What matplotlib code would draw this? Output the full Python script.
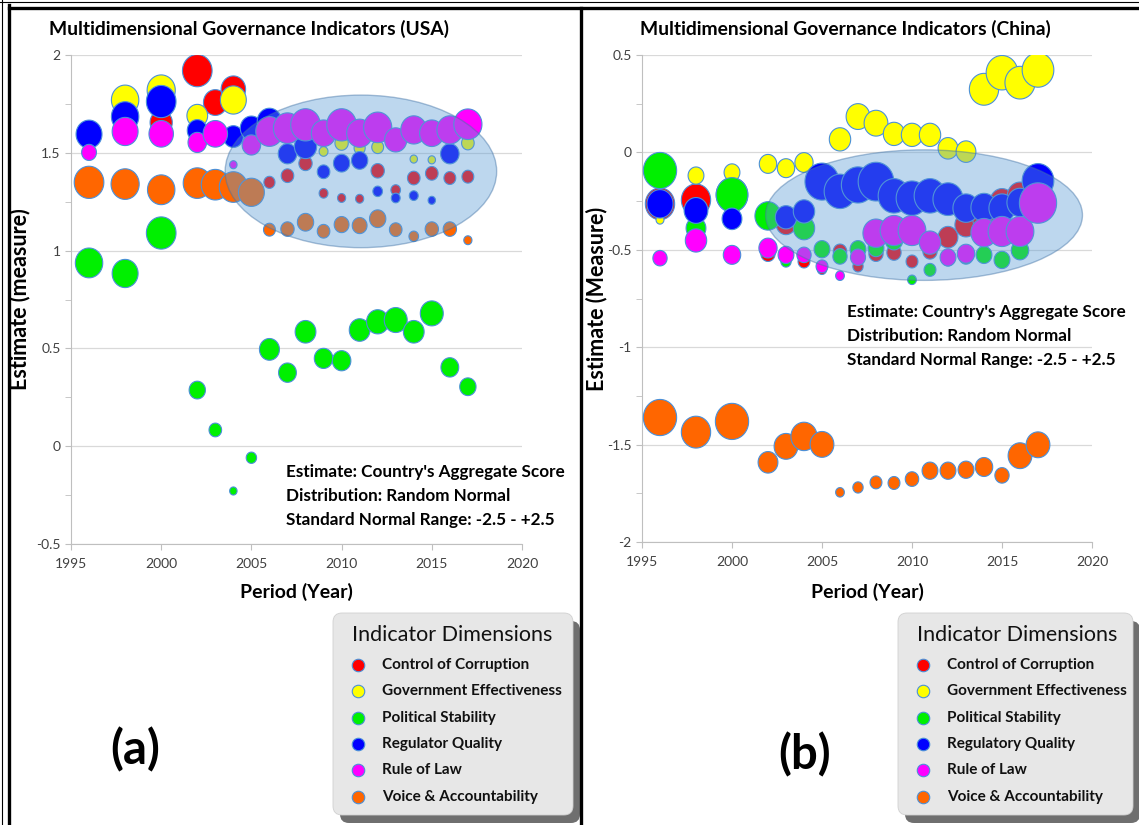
import numpy as np
import matplotlib
matplotlib.use('Agg')
import matplotlib.pyplot as plt
from matplotlib.patches import Ellipse, FancyBboxPatch
from matplotlib.ticker import MultipleLocator, FuncFormatter

# --- Dados ---
years = [1996, 1998, 2000, 2002, 2003, 2004, 2005, 2006, 2007, 2008,
         2009, 2010, 2011, 2012, 2013, 2014, 2015, 2016, 2017]

nan = np.nan

# USA
usa_cc = [nan, nan, 1.655, 1.92, 1.757, 1.825, nan, 1.349, 1.383, 1.446,
          1.293, 1.269, 1.265, 1.408, 1.31, 1.371, 1.395, 1.371, 1.378]
usa_cc_size = [20, 20, 30, 40, 32, 33, 20, 15, 17, 18, 12, 11, 11, 18, 13, 17, 17, 16, 16]
usa_ge = [nan, 1.77, 1.82, 1.69, nan, 1.77, nan, nan, nan, nan,
          1.507, 1.55, 1.524, 1.529, nan, 1.468, 1.464, nan, 1.55]
usa_ge_size = [15, 37, 38, 28, 15, 35, 15, 15, 15, 15, 12, 18, 15, 16, 15, 10, 10, 15, 17]
usa_ps = [0.937, 0.883, 1.09, 0.287, 0.083, -0.229, -0.059, 0.495, 0.376, 0.585,
          0.449, 0.437, 0.594, 0.636, 0.645, 0.585, 0.679, 0.403, 0.304]
usa_ps_size = [37, 35, 40, 22, 17, 10, 14, 27, 24, 28, 25, 25, 28, 30, 31, 28, 31, 24, 22]
usa_rq = [1.595, 1.685, 1.762, 1.614, nan, 1.583, 1.626, 1.66, 1.495, 1.532,
          1.403, 1.447, 1.461, 1.303, 1.269, 1.281, 1.257, 1.495, nan]
usa_rq_size = [35, 37, 40, 27, 25, 27, 30, 33, 25, 30, 17, 22, 22, 13, 12, 12, 10, 25, 15]
usa_rl = [1.502, 1.609, 1.597, 1.553, 1.597, 1.439, 1.54, 1.609, 1.626, 1.643,
          1.60, 1.643, 1.60, 1.63, 1.566, 1.617, 1.60, 1.617, 1.646]
usa_rl_size = [20, 35, 33, 25, 33, 10, 25, 37, 38, 40, 33, 40, 35, 38, 30, 35, 33, 35, 38]
usa_va = [1.349, 1.34, 1.311, 1.345, 1.337, 1.325, 1.298, 1.107, 1.11, 1.145,
          1.099, 1.133, 1.128, 1.163, 1.107, 1.073, 1.11, 1.11, 1.053]
usa_va_size = [40, 38, 37, 38, 38, 38, 35, 16, 18, 22, 17, 20, 20, 22, 17, 13, 18, 18, 11]

# China
chn_cc = [-0.264, -0.244, -0.218, -0.52, -0.367, -0.56, -0.60, -0.508, -0.585, -0.52,
          -0.514, -0.56, -0.508, -0.435, -0.372, -0.346, -0.252, -0.223, nan]
chn_cc_size = [37, 37, 40, 18, 25, 15, 12, 17, 13, 18, 18, 15, 18, 25, 28, 28, 30, 32, 25]
chn_ge = [-0.346, -0.119, -0.103, -0.059, -0.081, -0.052, nan, 0.067, 0.184, 0.15,
          0.095, 0.09, 0.09, 0.021, 0.004, 0.324, 0.409, 0.358, 0.423]
chn_ge_size = [10, 20, 20, 22, 22, 23, 20, 27, 30, 30, 27, 27, 27, 25, 25, 37, 40, 38, 40]
chn_ps = [-0.093, -0.389, -0.218, -0.326, -0.56, -0.389, -0.497, -0.534, -0.497, -0.491,
          -0.452, -0.654, -0.603, -0.55, -0.534, -0.526, -0.552, -0.503, nan]
chn_ps_size = [42, 25, 40, 33, 13, 27, 20, 18, 20, 20, 22, 11, 15, 15, 18, 20, 20, 22, 15]
chn_rq = [-0.264, -0.298, -0.341, nan, -0.333, -0.303, -0.15, -0.20, -0.167, -0.15,
          -0.223, -0.235, -0.223, -0.24, -0.286, -0.283, -0.286, -0.257, -0.146]
chn_rq_size = [33, 30, 25, 20, 27, 27, 43, 40, 42, 45, 40, 40, 40, 38, 33, 33, 33, 33, 40]
chn_rl = [-0.543, -0.452, -0.526, -0.491, -0.526, -0.526, -0.585, -0.633, -0.538, -0.415,
          -0.401, -0.401, -0.463, -0.539, -0.52, -0.412, -0.406, -0.406, -0.26]
chn_rl_size = [18, 27, 22, 23, 20, 18, 15, 11, 19, 33, 35, 35, 27, 20, 22, 33, 35, 35, 47]
chn_va = [-1.361, -1.436, -1.381, -1.591, -1.509, -1.458, -1.499, -1.745, -1.72, -1.694,
          -1.697, -1.677, -1.634, -1.634, -1.629, -1.615, -1.658, -1.557, -1.501]
chn_va_size = [42, 37, 42, 25, 30, 33, 30, 11, 13, 15, 15, 17, 20, 20, 20, 22, 18, 30, 30]

labels_usa = ['Control of Corruption', 'Government Effectiveness', 'Political Stability',
              'Regulator Quality', 'Rule of Law', 'Voice & Accountability']
labels_chn = ['Control of Corruption', 'Government Effectiveness', 'Political Stability',
              'Regulatory Quality', 'Rule of Law', 'Voice & Accountability']
colors = ['#ff0000', '#ffff00', '#00f000', '#0000ff', '#ff00ff', '#ff6600']
note = "Estimate: Country's Aggregate Score\nDistribution: Random Normal\nStandard Normal Range: -2.5 - +2.5"
# --------------------

FONT = 'Lato'
W, H = 1139, 825
fig = plt.figure(figsize=(W / 100, H / 100), dpi=100)
fig.patch.set_facecolor('white')


def px_rect(left, top, right, bottom):
    return [left / W, 1 - bottom / H, (right - left) / W, (bottom - top) / H]


# marcador levemente elíptico, como na figura original
t = np.linspace(0, 2 * np.pi, 60)
bubble = np.column_stack([0.92 * np.cos(t), np.sin(t)])


def draw_panel(rect, series, sizes, ylim, ylabel, ell, k, ylab_x, xlab_y):
    ax = fig.add_axes(rect)
    for vals, sz, col in zip(series, sizes, colors):
        s = (np.array(sz) * k) ** 2
        ax.scatter(years, vals, s=s, c=col, marker=bubble, edgecolors='#4a90d9',
                   linewidths=0.8, zorder=3)
    ax.add_patch(Ellipse(ell[0], ell[1], ell[2], facecolor=(0.357, 0.608, 0.835, 0.4),
                         edgecolor=(0.26, 0.45, 0.65, 0.45), lw=1.0, zorder=5))
    ax.set_xlim(1995, 2020)
    ax.set_ylim(*ylim)
    ax.xaxis.set_major_locator(MultipleLocator(5))
    ax.yaxis.set_major_locator(MultipleLocator(0.5))
    ax.yaxis.set_minor_locator(MultipleLocator(0.25))
    ax.yaxis.set_major_formatter(FuncFormatter(lambda v, p: f'{v:g}'))
    ax.grid(axis='y', color='#d9d9d9', lw=0.9, zorder=0)
    ax.set_axisbelow(True)
    for side in ['top', 'right']:
        ax.spines[side].set_visible(False)
    for side in ['left', 'bottom']:
        ax.spines[side].set_color('#bfbfbf')
    ax.tick_params(which='both', direction='out', color='#bfbfbf', labelcolor='#404040',
                   labelsize=10, length=4)
    ax.tick_params(axis='x', pad=6)
    for lab in ax.get_xticklabels() + ax.get_yticklabels():
        lab.set_fontfamily(FONT)
    ax.set_xlabel('Period (Year)', fontsize=14, fontweight='bold', family=FONT, va='center')
    ax.set_ylabel(ylabel, fontsize=15.5, fontweight='bold', family=FONT, va='center')
    ax.yaxis.set_label_coords(ylab_x, 0.5)
    ax.xaxis.set_label_coords(0.5, xlab_y)
    return ax


ax_usa = draw_panel(px_rect(71, 55, 522, 544),
                    [usa_cc, usa_ge, usa_ps, usa_rq, usa_rl, usa_va],
                    [usa_cc_size, usa_ge_size, usa_ps_size, usa_rq_size, usa_rl_size, usa_va_size],
                    (-0.5, 2), 'Estimate (measure)',
                    ((2011.07, 1.405), 15.05, 0.78), 0.58, -0.115, -0.099)
ax_chn = draw_panel(px_rect(642, 55, 1092, 542),
                    [chn_cc, chn_ge, chn_ps, chn_rq, chn_rl, chn_va],
                    [chn_cc_size, chn_ge_size, chn_ps_size, chn_rq_size, chn_rl_size, chn_va_size],
                    (-2, 0.5), 'Estimate (Measure)',
                    ((2010.67, -0.322), 17.6, 0.67), 0.62, -0.1, -0.103)

# camada por cima em coordenadas de pixel (bordas, textos, legendas)
ov = fig.add_axes([0, 0, 1, 1], zorder=10)
ov.set_xlim(0, W)
ov.set_ylim(H, 0)
ov.axis('off')
ov.patch.set_alpha(0)

# bordas pretas
ov.plot([2, 2], [0, H], color='black', lw=0.8)
ov.plot([9, 9], [5, H], color='black', lw=2.4)
ov.plot([0, W], [2, 2], color='black', lw=0.8)
ov.plot([9, W], [8, 8], color='black', lw=2.4)
ov.plot([581, 581], [8, H], color='black', lw=2.4)

ov.text(249, 29, 'Multidimensional Governance Indicators (USA)', ha='center', va='center',
        fontsize=13.9, fontweight='bold', family=FONT)
ov.text(845, 29, 'Multidimensional Governance Indicators (China)', ha='center', va='center',
        fontsize=13.9, fontweight='bold', family=FONT)

ov.text(286, 496, note, ha='left', va='center', fontsize=12.3, fontweight='bold',
        family=FONT, linespacing=1.65)
ov.text(847, 336, note, ha='left', va='center', fontsize=12.3, fontweight='bold',
        family=FONT, linespacing=1.65)

ov.text(135, 750, '(a)', ha='center', va='center', fontsize=34, fontweight='bold', family=FONT)
ov.text(805, 755, '(b)', ha='center', va='center', fontsize=34, fontweight='bold', family=FONT)


def draw_legend(x0, y0, x1, y1, labels):
    ov.add_patch(FancyBboxPatch((x0 + 7, y0 + 8), x1 - x0, y1 - y0,
                                boxstyle='round,pad=0,rounding_size=9',
                                facecolor='#6f6f6f', edgecolor='none'))
    ov.add_patch(FancyBboxPatch((x0, y0), x1 - x0, y1 - y0,
                                boxstyle='round,pad=0,rounding_size=9',
                                facecolor='#e7e7e7', edgecolor='#d0d0d0', lw=0.6))
    ov.text(x0 + 19, y0 + 22, 'Indicator Dimensions', ha='left', va='center',
            fontsize=15.5, family=FONT, color='#111111')
    for i, (lab, col) in enumerate(zip(labels, colors)):
        yy = y0 + 52 + i * 26.3
        ov.plot(x0 + 25, yy, 'o', ms=9, mfc=col, mec='#4a90d9', mew=0.8)
        ov.text(x0 + 49, yy, lab, ha='left', va='center', fontsize=11,
                fontweight='bold', family=FONT, color='#111111')


draw_legend(333, 613, 573, 815, labels_usa)
draw_legend(898, 613, 1133, 815, labels_chn)

fig.savefig('out.png', dpi=100)
